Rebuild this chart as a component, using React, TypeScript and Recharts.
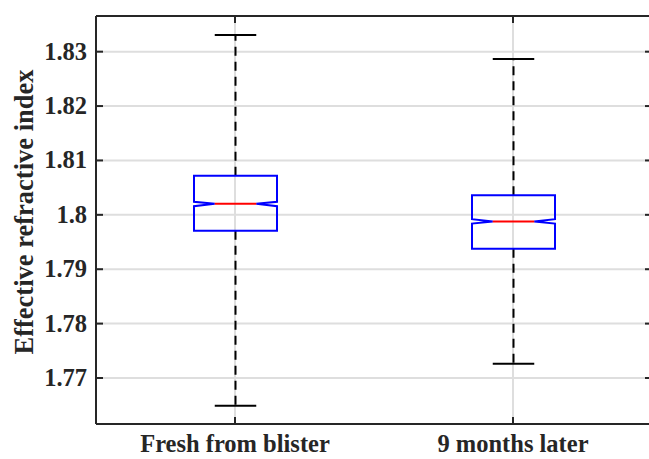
import React from 'react';
import { ComposedChart, Bar, XAxis, YAxis, CartesianGrid } from 'recharts';

const categories = ['Fresh from blister', '9 months later'];
const whiskerLow = [1.7649, 1.7726];
const q1 = [1.79706, 1.79375];
const medians = [1.80202, 1.79877];
const q3 = [1.80717, 1.80362];
const whiskerHigh = [1.83307, 1.82866];
const notchLow = [1.8016, 1.7984];
const notchHigh = [1.8024, 1.7992];
const yTicks = [1.77, 1.78, 1.79, 1.8, 1.81, 1.82, 1.83];
const yTickLabels = ['1.77', '1.78', '1.79', '1.8', '1.81', '1.82', '1.83'];
const yDomain = [1.76154, 1.83656];
const yLabel = 'Effective refractive index';

const chartData = categories.map((name, i) => ({
  name,
  box: [q1[i], q3[i]],
  med: medians[i],
  wl: whiskerLow[i],
  wh: whiskerHigh[i],
  nl: notchLow[i],
  nh: notchHigh[i],
}));

const FONT = '"Liberation Serif", "Times New Roman", serif';
const AX = '#262626';
const FS = 24.5;

const BoxShape = (props: any) => {
  const { x, y, width, height, payload } = props;
  const top = Math.min(y, y + height);
  const h = Math.abs(height);
  const [lo, hi] = payload.box;
  const k = h / (hi - lo);
  const toY = (v: number) => top + (hi - v) * k;
  const cx = x + width / 2;
  const hw = width / 2;
  const nw = hw / 2;
  const xl = cx - hw;
  const xr = cx + hw;
  const yq3 = toY(hi);
  const yq1 = toY(lo);
  const ym = toY(payload.med);
  const ynh = toY(payload.nh);
  const ynl = toY(payload.nl);
  const ywh = toY(payload.wh);
  const ywl = toY(payload.wl);
  const path = `M${xl},${yq3} L${xl},${ynh} L${cx - nw},${ym} L${xl},${ynl} L${xl},${yq1} L${xr},${yq1} L${xr},${ynl} L${cx + nw},${ym} L${xr},${ynh} L${xr},${yq3} Z`;
  return (
    <g>
      <line x1={cx} x2={cx} y1={yq3} y2={ywh} stroke="#000" strokeWidth={2} strokeDasharray="9 6" />
      <line x1={cx} x2={cx} y1={yq1} y2={ywl} stroke="#000" strokeWidth={2} strokeDasharray="9 6" />
      <line x1={cx - nw} x2={cx + nw} y1={ywh} y2={ywh} stroke="#000" strokeWidth={2} />
      <line x1={cx - nw} x2={cx + nw} y1={ywl} y2={ywl} stroke="#000" strokeWidth={2} />
      <path d={path} fill="none" stroke="#0000ff" strokeWidth={2} strokeLinejoin="miter" />
      <line x1={cx - nw} x2={cx + nw} y1={ym} y2={ym} stroke="#ff0000" strokeWidth={2} />
    </g>
  );
};

const BottomTick = (props: any) => {
  const { x, y, payload } = props;
  return (
    <g>
      <line x1={x} x2={x} y1={y} y2={y - 7} stroke={AX} strokeWidth={2} />
      <text x={x} y={y + 28} textAnchor="middle" fontFamily={FONT} fontWeight="bold" fontSize={FS} fill={AX}>
        {payload.value}
      </text>
    </g>
  );
};

const TopTick = (props: any) => {
  const { x, y } = props;
  return <line x1={x} x2={x} y1={y} y2={y + 7} stroke={AX} strokeWidth={2} />;
};

const LeftTick = (props: any) => {
  const { x, y, payload } = props;
  const idx = yTicks.findIndex((t) => Math.abs(t - payload.value) < 1e-9);
  return (
    <g>
      <line x1={x} x2={x + 7} y1={y} y2={y} stroke={AX} strokeWidth={2} />
      <text x={x - 9} y={y} dy={8} textAnchor="end" fontFamily={FONT} fontWeight="bold" fontSize={FS} fill={AX}>
        {idx >= 0 ? yTickLabels[idx] : String(payload.value)}
      </text>
    </g>
  );
};

const RightTick = (props: any) => {
  const { x, y } = props;
  return <line x1={x} x2={x - 7} y1={y} y2={y} stroke={AX} strokeWidth={2} />;
};

const YLabelContent = (props: any) => {
  const vb = props.viewBox || {};
  const cy = (vb.y ?? 16) + (vb.height ?? 408) / 2 - 8;
  const lx = (vb.x ?? 0) + 33;
  return (
    <text
      x={lx}
      y={cy}
      transform={`rotate(-90 ${lx} ${cy})`}
      textAnchor="middle"
      fontFamily={FONT}
      fontWeight="bold"
      fontSize={26.5}
      fill={AX}
    >
      {yLabel}
    </text>
  );
};

export default function App() {
  return (
    <div style={{ position: 'absolute', left: 0, top: 0, width: 649, height: 459, overflow: 'hidden', background: '#fff' }}>
      <ComposedChart width={656} height={459} data={chartData} margin={{ top: 15, right: 3, bottom: 0, left: 0 }}>
        <CartesianGrid stroke="#dedede" strokeWidth={2} />
        <Bar dataKey="box" barSize={83} shape={<BoxShape />} isAnimationActive={false} />
        <XAxis
          dataKey="name"
          height={35}
          axisLine={{ stroke: AX, strokeWidth: 2 }}
          tickLine={false}
          tickSize={0}
          tickMargin={0}
          tick={<BottomTick />}
          interval={0}
        />
        <XAxis
          xAxisId="top"
          orientation="top"
          dataKey="name"
          height={1}
          axisLine={{ stroke: AX, strokeWidth: 2 }}
          tickLine={false}
          tickSize={0}
          tickMargin={0}
          tick={<TopTick />}
          interval={0}
        />
        <YAxis
          type="number"
          domain={yDomain}
          ticks={yTicks}
          allowDataOverflow
          width={96}
          axisLine={{ stroke: AX, strokeWidth: 2 }}
          tickLine={false}
          tickSize={0}
          tickMargin={0}
          tick={<LeftTick />}
          interval={0}
          label={{ content: <YLabelContent /> }}
        />
        <YAxis
          yAxisId="right"
          orientation="right"
          type="number"
          domain={yDomain}
          ticks={yTicks}
          allowDataOverflow
          width={1}
          axisLine={{ stroke: AX, strokeWidth: 2 }}
          tickLine={false}
          tickSize={0}
          tickMargin={0}
          tick={<RightTick />}
          interval={0}
        />
      </ComposedChart>
    </div>
  );
}
